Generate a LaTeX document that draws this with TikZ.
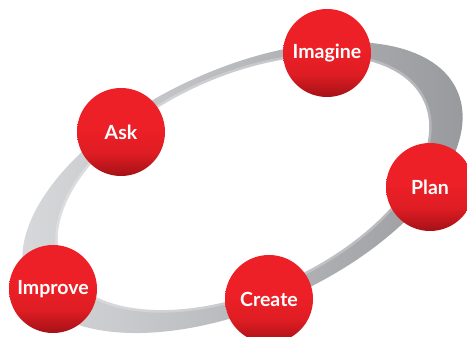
\documentclass[tikz,border=0pt]{standalone}
\usepackage{fontspec}
\setmainfont{Lato}
\definecolor{rlight}{RGB}{237,32,39}
\definecolor{rmid}{RGB}{222,29,35}
\definecolor{rdark}{RGB}{165,17,23}
\definecolor{ringlight}{RGB}{218,219,221}
\definecolor{ringdark}{RGB}{150,151,155}
\pgfdeclareverticalshading{redball}{100bp}{color(0bp)=(rdark); color(25bp)=(rdark); color(38bp)=(rmid); color(52bp)=(rlight); color(100bp)=(rlight)}
\tikzset{
  stage/.style={circle, minimum size=88pt, inner sep=0pt, shading=redball,
    text=white, font=\fontsize{19.5}{21}\selectfont\bfseries},
}
\begin{document}
\begin{tikzpicture}[x=1pt,y=-1pt]
\useasboundingbox (0,0) rectangle (467,337);
\coordinate (oc) at (242.5,187.5);
\begin{scope}[rotate around={24.35:(oc)}]
  \coordinate (ic) at (245.3,183.8);
  \def\outerring{(oc) ellipse [x radius=235.5pt, y radius=119pt]}
  \def\innerring{(ic) ellipse [x radius=198pt, y radius=107pt]}
  \shade[left color=ringlight, right color=ringdark, even odd rule] \outerring \innerring;
  \begin{scope}[even odd rule]
    \clip \outerring \innerring;
    \draw[white, opacity=0.25, line width=5pt] \innerring;
  \end{scope}
\end{scope}
\node[stage] (imagine) at (327,53) {Imagine};
\node[stage] (ask) at (121,132) {Ask};
\node[stage] (plan) at (430,187) {Plan};
\node[stage] (improve) at (53,289) {Improve};
\node[stage] (create) at (269,299) {Create};
\end{tikzpicture}
\end{document}
